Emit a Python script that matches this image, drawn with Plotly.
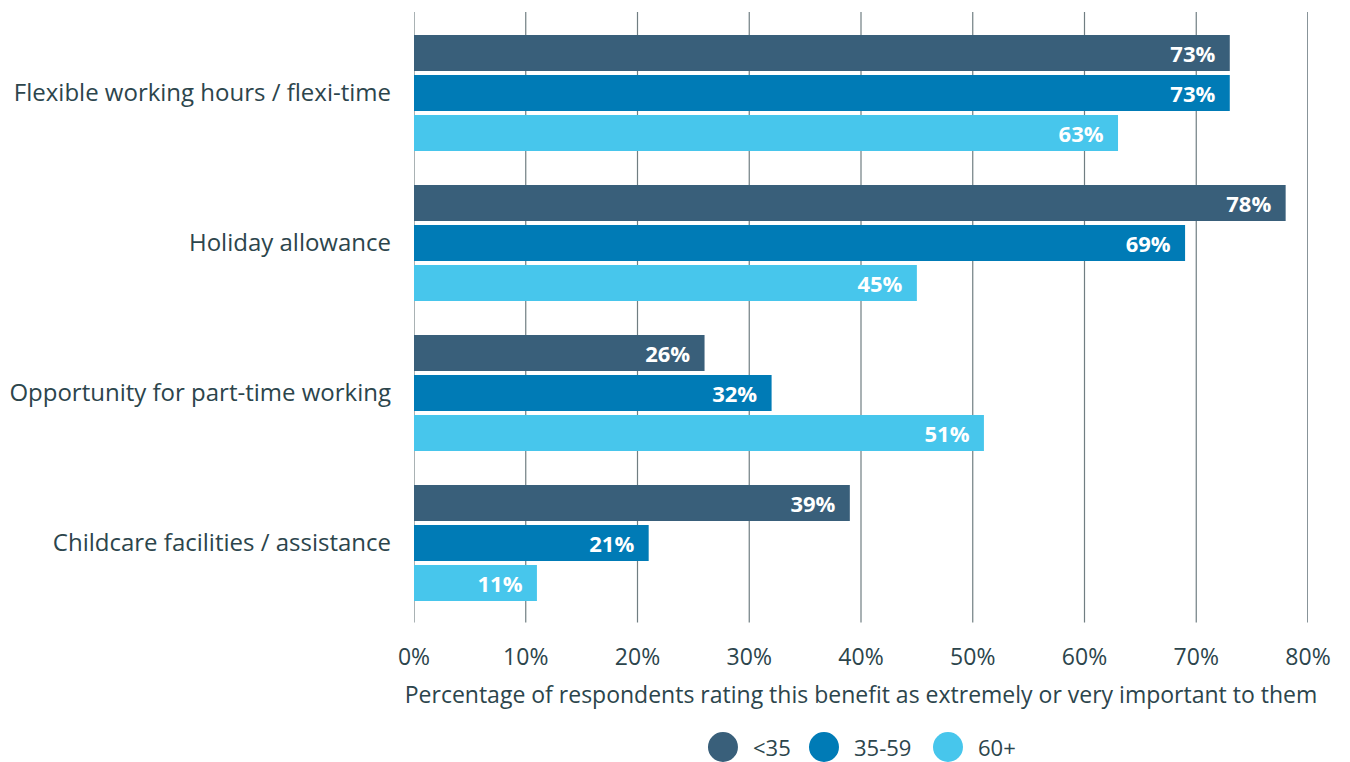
import plotly.graph_objects as go

categories = ["Flexible working hours / flexi-time", "Holiday allowance",
              "Opportunity for part-time working", "Childcare facilities / assistance"]
series_names = ["<35", "35-59", "60+"]
under_35 = [73, 78, 26, 39]
age_35_59 = [73, 69, 32, 21]
over_60 = [63, 45, 51, 11]
x_ticks = [0, 10, 20, 30, 40, 50, 60, 70, 80]
x_tick_labels = ["0%", "10%", "20%", "30%", "40%", "50%", "60%", "70%", "80%"]

colors = ["#395f7a", "#007bb6", "#47c6ec"]
text_color = "#2c454c"
grid_color = "#707e82"
edge_grid_color = "#3a4e55"
FONT = "Open Sans"
FS = 23

fig = go.Figure()
for name, vals, col in zip(series_names, [under_35, age_35_59, over_60], colors):
    fig.add_trace(go.Bar(
        name=name, y=categories, x=vals, orientation="h",
        marker=dict(color=col, line=dict(width=0)),
        text=[f"{v}%\u00a0\u00a0" for v in vals],
        textposition="inside", insidetextanchor="end",
        insidetextfont=dict(family=FONT, size=22, color="white", weight="bold"),
        constraintext="none", showlegend=False, hoverinfo="skip",
    ))

# vertical gridlines (slightly overshooting the plot area, as in the original)
for i, t in enumerate(x_ticks):
    fig.add_shape(type="line", xref="x", yref="paper", x0=t, x1=t,
                  y0=-0.0075, y1=1.01, layer="below",
                  line=dict(color=edge_grid_color if i == len(x_ticks) - 1 else grid_color,
                            width=1.2))

# custom legend with large circles
legend_x = [0.3456, 0.4586, 0.5973]
legend_y = -0.2150
for name, col, lx in zip(series_names, colors, legend_x):
    fig.add_shape(type="circle", xref="paper", yref="paper",
                  xsizemode="pixel", ysizemode="pixel",
                  xanchor=lx, yanchor=legend_y,
                  x0=-15, x1=15, y0=-15, y1=15,
                  fillcolor=col, line=dict(width=0))
    fig.add_annotation(xref="paper", yref="paper", x=lx, y=legend_y,
                       xshift=28, xanchor="left", yanchor="middle",
                       text=name, showarrow=False,
                       font=dict(family=FONT, size=22, color=text_color))

fig.update_layout(
    width=1342, height=754,
    margin=dict(l=406, r=42, t=10, b=144, autoexpand=False),
    paper_bgcolor="white", plot_bgcolor="white",
    barmode="group", bargap=0.2, bargroupgap=0.1,
    font=dict(family=FONT, color=text_color),
    xaxis=dict(range=[0, 80], tickvals=x_ticks, ticktext=x_tick_labels,
               showgrid=False, zeroline=False, showline=False, ticks="",
               tickfont=dict(family=FONT, size=FS, color=text_color),
               ticklabelstandoff=23,
               title=dict(text="Percentage of respondents rating this benefit as extremely or very important to them",
                          font=dict(family=FONT, size=FS, color=text_color), standoff=15),
               automargin=False, fixedrange=True),
    yaxis=dict(autorange="reversed", showgrid=False, zeroline=False, showline=False,
               ticks="", tickfont=dict(family=FONT, size=24, color=text_color),
               ticklabelstandoff=22, automargin=False, fixedrange=True),
    showlegend=False,
)

fig.write_html("out.html")
